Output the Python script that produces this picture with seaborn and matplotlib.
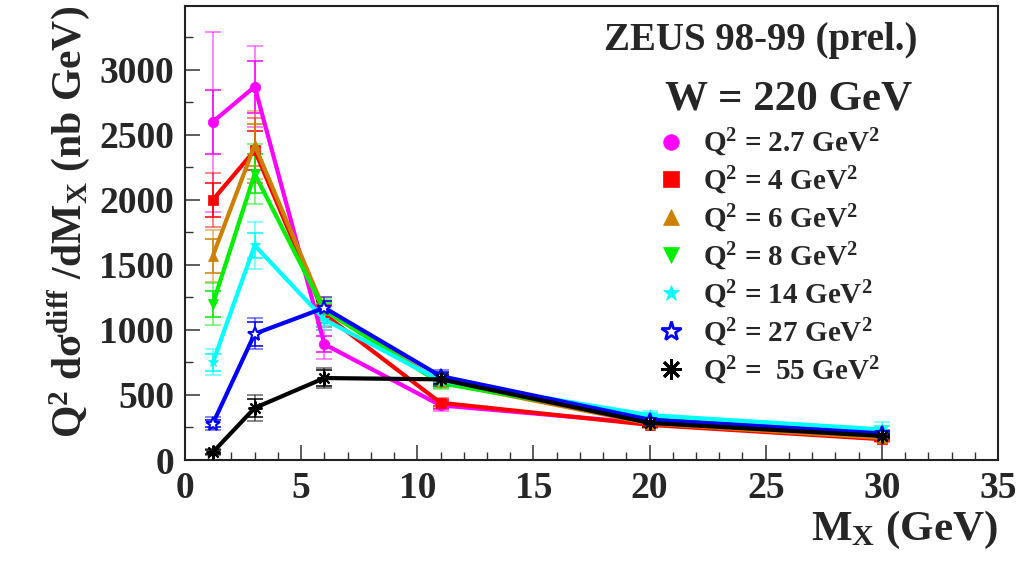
import matplotlib
matplotlib.use("Agg")
import matplotlib.pyplot as plt
import seaborn as sns
import pandas as pd
import numpy as np
from matplotlib.lines import Line2D
from matplotlib.ticker import MultipleLocator

# ---------------- data ----------------
mx = [1.2, 3, 6, 11, 20, 30]
q2_labels = ["2.7", "4", "6", "8", "14", "27", " 55"]
y_2p7 = [2600, 2870, 890, 420, 280, 165]
y_4 = [2000, 2380, 1120, 440, 270, 160]
y_6 = [1570, 2420, 1150, 600, 280, 170]
y_8 = [1200, 2200, 1150, 590, 315, 200]
y_14 = [750, 1650, 1080, 610, 345, 235]
y_27 = [280, 970, 1170, 645, 310, 205]
y_55 = [60, 400, 630, 620, 285, 185]

stat_2p7 = [245, 200, 60, 25, 15, 12]
tot_2p7 = [690, 310, 110, 40, 25, 20]
stat_4 = [130, 150, 70, 25, 15, 12]
tot_4 = [210, 250, 100, 40, 25, 20]
stat_6 = [130, 160, 70, 30, 15, 12]
tot_6 = [200, 260, 100, 45, 25, 20]
stat_8 = [100, 150, 60, 30, 15, 12]
tot_8 = [160, 230, 90, 45, 25, 20]
stat_14 = [65, 95, 50, 30, 20, 25]
tot_14 = [100, 180, 80, 50, 30, 60]
stat_27 = [30, 90, 50, 35, 20, 15]
tot_27 = [50, 120, 80, 50, 30, 25]
stat_55 = [15, 70, 60, 35, 20, 15]
tot_55 = [25, 100, 80, 50, 30, 25]

series_y = [y_2p7, y_4, y_6, y_8, y_14, y_27, y_55]
series_stat = [stat_2p7, stat_4, stat_6, stat_8, stat_14, stat_27, stat_55]
series_tot = [tot_2p7, tot_4, tot_6, tot_8, tot_14, tot_27, tot_55]

colors = ["#ff00ff", "#ff0000", "#cc8000", "#00ee00", "#00ffff", "#0000ff", "#000000"]
markers = ["o", "s", "^", "v", "*", "*", (8, 2, 0)]
msizes = [7.5, 7.5, 7.5, 7.5, 8, 10, 10]
mfcs = ["#ff00ff", "#ff0000", "#cc8000", "#00ee00", "#00ffff", "white", "#000000"]

# ---------------- style ----------------
sns.set_theme(style="white")
plt.rcParams["font.family"] = ["Liberation Serif", "DejaVu Serif"]
plt.rcParams["font.weight"] = "bold"
plt.rcParams["mathtext.fontset"] = "custom"
plt.rcParams["mathtext.rm"] = "Liberation Serif:bold"
plt.rcParams["mathtext.bf"] = "Liberation Serif:bold"
plt.rcParams["mathtext.it"] = "Liberation Serif:bold"
plt.rcParams["mathtext.default"] = "bf"

fig = plt.figure(figsize=(10.18, 5.65), dpi=100)
ax = fig.add_axes([185 / 1018, 105 / 565, 813 / 1018, 454 / 565])

rows = []
for lab, ys in zip(q2_labels, series_y):
    for xv, yv in zip(mx, ys):
        rows.append({"mx": xv, "val": yv, "q2": lab})
df = pd.DataFrame(rows)

for i, lab in enumerate(q2_labels):
    sub = df[df["q2"] == lab]
    ax.errorbar(mx, series_y[i], yerr=series_tot[i], fmt="none", ecolor=colors[i],
                elinewidth=1.1, capsize=5.5, capthick=1.1, alpha=0.6, zorder=2)
    ax.errorbar(mx, series_y[i], yerr=series_stat[i], fmt="none", ecolor=colors[i],
                elinewidth=1.1, capsize=6, capthick=1.1, zorder=2)
    sns.lineplot(data=sub, x="mx", y="val", ax=ax, color=colors[i], linewidth=3.0,
                 marker=markers[i], markersize=msizes[i], markerfacecolor=mfcs[i],
                 markeredgecolor=colors[i], markeredgewidth=1.5 if i >= 5 else 0.5,
                 legend=False, zorder=3 + i * 0.1, errorbar=None)

ax.set_xlim(0, 35)
ax.set_ylim(0, 3490)
ax.xaxis.set_major_locator(MultipleLocator(5))
ax.xaxis.set_minor_locator(MultipleLocator(1))
ax.yaxis.set_major_locator(MultipleLocator(500))
ax.yaxis.set_minor_locator(MultipleLocator(250))
ax.tick_params(axis="both", which="both", direction="in", top=False, right=False,
               bottom=True, left=True, color="#333333")
ax.tick_params(axis="both", which="major", length=11, width=1.1, labelsize=27)
ax.tick_params(axis="both", which="minor", length=6, width=1.0)
ax.tick_params(axis="x", which="major", pad=8)
ax.tick_params(axis="y", which="major", pad=8)
for lbl in ax.get_xticklabels() + ax.get_yticklabels():
    lbl.set_fontweight("bold")
for sp in ax.spines.values():
    sp.set_color("#222222")
    sp.set_linewidth(1.5)

ax.set_xlabel(r"M$_{\mathbf{X}}$ (GeV)", fontsize=31, fontweight="bold", loc="right", labelpad=2)
ax.set_ylabel(r"Q$^{\mathbf{2}}$ d$\mathbf{\sigma}^{\mathbf{diff}}$ /dM$_{\mathbf{X}}$ (nb GeV)",
              fontsize=30, fontweight="bold", loc="top", labelpad=4)

ax.text(0.708, 0.965, "ZEUS 98-99 (prel.)", transform=ax.transAxes, ha="center", va="top",
        fontsize=28, fontweight="bold")
ax.text(0.743, 0.835, "W = 220 GeV", transform=ax.transAxes, ha="center", va="top",
        fontsize=31, fontweight="bold")

handles = []
for i, lab in enumerate(q2_labels):
    handles.append(Line2D([], [], linestyle="none", marker=markers[i], color=colors[i],
                          markersize=msizes[i] * 1.5, markerfacecolor=mfcs[i],
                          markeredgecolor=colors[i], markeredgewidth=2 if i >= 5 else 0.5))
labels = [r"Q$^{\mathbf{2}}$ = " + lab + r" GeV$^{\mathbf{2}}$" for lab in q2_labels]
leg = ax.legend(handles, labels, loc="upper left", bbox_to_anchor=(0.565, 0.76),
                frameon=False, fontsize=21, labelspacing=0.2, handlelength=1.0,
                handletextpad=0.6, borderaxespad=0)
for t in leg.get_texts():
    t.set_fontweight("bold")

fig.savefig("out.png", dpi=100)
